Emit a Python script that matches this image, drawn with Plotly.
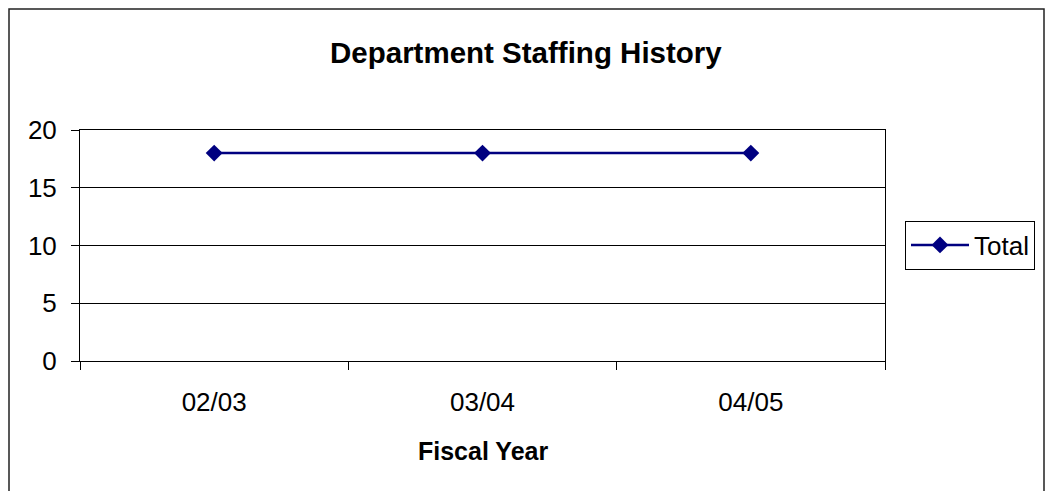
import plotly.graph_objects as go

# Staffing totals by fiscal year
fiscal_years = ["02/03", "03/04", "04/05"]
total_staff = [18, 18, 18]

W, H = 1048, 491
L, R, T, B = 80, 885, 130, 361  # plot area edges in pixels

def px_x(x):
    return (x - L) / (R - L)

def px_y(y):
    return (B - y) / (B - T)

FONT = "Liberation Sans, Arial, sans-serif"

fig = go.Figure()
fig.add_trace(go.Scatter(
    x=fiscal_years, y=total_staff, name="Total",
    mode="lines+markers",
    line=dict(color="#000080", width=2.5),
    marker=dict(symbol="diamond", size=13, color="#000080"),
))

fig.update_layout(
    width=W, height=H,
    margin=dict(l=L, r=W - R, t=T, b=H - B),
    paper_bgcolor="white", plot_bgcolor="white",
    font=dict(family=FONT, size=26, color="black"),
    showlegend=True,
    legend=dict(
        x=px_x(905), y=px_y(245), xanchor="left", yanchor="middle",
        bordercolor="black", borderwidth=1, bgcolor="white",
        font=dict(size=26), itemwidth=58,
        tracegroupgap=0,
    ),
)

fig.update_xaxes(
    type="category", range=[-0.5, 2.5],
    tickson="boundaries", ticks="outside", ticklen=8, tickcolor="black",
    showline=True, linecolor="black", linewidth=1, mirror=True,
    showgrid=False, ticklabelstandoff=18,
    tickfont=dict(size=26),
)
fig.update_yaxes(
    range=[0, 20], dtick=5, tick0=0,
    ticks="outside", ticklen=8, tickcolor="black",
    showline=True, linecolor="black", linewidth=1, mirror=True,
    showgrid=True, gridcolor="black", gridwidth=1,
    ticklabelstandoff=9, zeroline=False,
    tickfont=dict(size=26),
)

# Chart title and x-axis title
fig.add_annotation(
    text="<b>Department Staffing History</b>", xref="paper", yref="paper",
    x=px_x(526), y=px_y(52), xanchor="center", yanchor="middle",
    showarrow=False, font=dict(size=29.5),
)
fig.add_annotation(
    text="<b>Fiscal Year</b>", xref="paper", yref="paper",
    x=px_x(483), y=px_y(451), xanchor="center", yanchor="middle",
    showarrow=False, font=dict(size=25),
)

# Chart frame
fig.add_shape(
    type="rect", xref="paper", yref="paper",
    x0=px_x(9), x1=px_x(1044), y0=px_y(500), y1=px_y(9),
    line=dict(color="#222222", width=1.5), layer="below",
)

fig.write_html("out.html")
